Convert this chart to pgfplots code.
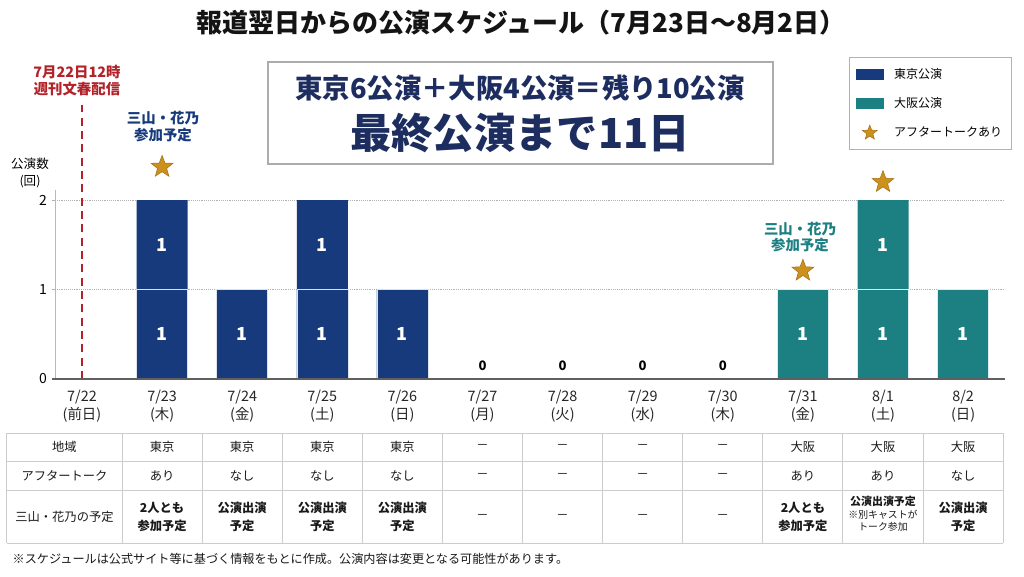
\documentclass[border=0pt]{standalone}
\usepackage{fontspec}
\setmainfont{Noto Sans CJK JP}
\usepackage{pgfplots}
\pgfplotsset{compat=1.18}
\definecolor{tokyoC}{RGB}{23,58,125}
\definecolor{osakaC}{RGB}{28,127,130}
\definecolor{starC}{RGB}{204,144,28}
\definecolor{starD}{RGB}{165,112,20}
\definecolor{redC}{RGB}{178,34,40}
\definecolor{boxC}{RGB}{30,45,95}
\newcommand{\fs}[2]{\fontsize{#1}{#2}\selectfont}
\pgfdeclareplotmark{fstar}{%
  \pgfpathmoveto{\pgfqpointpolar{90}{\pgfplotmarksize}}%
  \pgfpathlineto{\pgfqpointpolar{126}{0.42\pgfplotmarksize}}%
  \pgfpathlineto{\pgfqpointpolar{162}{\pgfplotmarksize}}%
  \pgfpathlineto{\pgfqpointpolar{198}{0.42\pgfplotmarksize}}%
  \pgfpathlineto{\pgfqpointpolar{234}{\pgfplotmarksize}}%
  \pgfpathlineto{\pgfqpointpolar{270}{0.42\pgfplotmarksize}}%
  \pgfpathlineto{\pgfqpointpolar{306}{\pgfplotmarksize}}%
  \pgfpathlineto{\pgfqpointpolar{342}{0.42\pgfplotmarksize}}%
  \pgfpathlineto{\pgfqpointpolar{18}{\pgfplotmarksize}}%
  \pgfpathlineto{\pgfqpointpolar{54}{0.42\pgfplotmarksize}}%
  \pgfpathclose
  \pgfusepathqfillstroke
}
\begin{document}
\begin{tikzpicture}
\path[use as bounding box, fill=white] (-61.5pt,-147.75pt) rectangle (706.5pt,284.25pt);
\begin{axis}[
  at={(0,0)}, anchor=origin,
  x=60.075pt, y=67.125pt,
  xmin=-0.337, xmax=11.52, ymin=0, ymax=2.11,
  clip=false,
  axis lines=left,
  axis line style={-, draw=gray!55, line width=0.7pt},
  /pgf/number format/assume math mode=true,
  ymajorgrids,
  grid style={densely dotted, gray!60, line width=0.6pt},
  ytick={0,1,2},
  yticklabel style={font=\fs{10.5}{12}, text=black},
  ytick style={draw=gray!60},
  tick align=outside, major tick length=2.5pt,
  xtick={0,...,11},
  x tick style={draw=none},
  xticklabels={{7/22\\(前日)},{7/23\\(木)},{7/24\\(金)},{7/25\\(土)},{7/26\\(日)},{7/27\\(月)},{7/28\\(火)},{7/29\\(水)},{7/30\\(木)},{7/31\\(金)},{8/1\\(土)},{8/2\\(日)}},
  xticklabel style={align=center, font=\fs{10.8}{13.5}, text=black!85, yshift=-2pt},
  ylabel={公演数\\(回)},
  every axis y label/.style={at={(axis cs:-0.649,2.30)}, anchor=center, align=center, font=\fs{9.4}{12.75}},
  legend style={at={(0.836,1.705)}, anchor=north west, draw=gray!60, line width=0.6pt, fill=white,
    font=\fs{9}{11}, inner xsep=5pt, inner ysep=6pt, row sep=9pt,
    /tikz/every odd column/.append style={column sep=6pt}},
  legend cell align=left,
]
\addlegendimage{legend image code/.code={\fill[tokyoC] (0pt,-3.6pt) rectangle (20pt,3.6pt);}}
\addlegendentry{東京公演}
\addlegendimage{legend image code/.code={\fill[osakaC] (0pt,-3.6pt) rectangle (20pt,3.6pt);}}
\addlegendentry{大阪公演}
\addlegendimage{legend image code/.code={\draw[starD, fill=starC, line width=0.4pt, mark size=5.8pt, mark=fstar] plot coordinates {(10pt,0pt)};}}
\addlegendentry{アフタートークあり}

% 7/22 12時 marker
\addplot[forget plot, redC, line width=1.3pt, dash pattern=on 6pt off 4pt] coordinates {(0,0) (0,3.06)};

% Tokyo: daily totals
\addplot[forget plot, ybar, bar width=38.25pt, bar shift=0pt, fill=tokyoC, draw=none]
  coordinates {(1,2) (2,1) (3,2) (4,1)};
% Tokyo: first show of each day
\addplot[forget plot, ybar, bar width=38.25pt, bar shift=0pt, fill=tokyoC, draw=white!85!tokyoC, line width=0.4pt,
  point meta=explicit, nodes near coords,
  nodes near coords style={anchor=center, yshift=-33.56pt, text=white, font=\bfseries\fs{13.5}{14}}]
  coordinates {(1,1) [1] (2,1) [1] (3,1) [1] (4,1) [1]};
% Tokyo: second show labels
\addplot[forget plot, draw=none, point meta=explicit, nodes near coords,
  nodes near coords style={anchor=center, yshift=-33.56pt, text=white, font=\bfseries\fs{13.5}{14}}]
  coordinates {(1,2) [1] (3,2) [1]};

% Osaka: daily totals
\addplot[forget plot, ybar, bar width=38.25pt, bar shift=0pt, fill=osakaC, draw=none]
  coordinates {(9,1) (10,2) (11,1)};
\addplot[forget plot, ybar, bar width=38.25pt, bar shift=0pt, fill=osakaC, draw=white!85!osakaC, line width=0.4pt,
  point meta=explicit, nodes near coords,
  nodes near coords style={anchor=center, yshift=-33.56pt, text=white, font=\bfseries\fs{13.5}{14}}]
  coordinates {(9,1) [1] (10,1) [1] (11,1) [1]};
\addplot[forget plot, draw=none, point meta=explicit, nodes near coords,
  nodes near coords style={anchor=center, yshift=-33.56pt, text=white, font=\bfseries\fs{13.5}{14}}]
  coordinates {(10,2) [1]};

% zero days
\addplot[forget plot, draw=none, point meta=explicit, nodes near coords,
  nodes near coords style={anchor=center, yshift=9.75pt, text=black, font=\bfseries\fs{9.8}{10}}]
  coordinates {(5,0) [0] (6,0) [0] (7,0) [0] (8,0) [0]};

% after-talk stars
\addplot[forget plot, only marks, mark=fstar, mark size=8.6pt, fill=starC, draw=starD, line width=0.4pt]
  coordinates {(1,2.37) (9,1.21) (10,2.20)};

\draw[gray!75!black, line width=1.1pt] (axis cs:-0.37,0) -- (axis cs:11.52,0);
\end{axis}

\begin{scope}[x=0.75pt,y=-0.75pt,shift={(-82,-379)}]
\node[font=\bfseries\fs{19.5}{22}, text=black!92] at (521,23) {報道翌日からの公演スケジュール（7月23日～8月2日）};
\node[text=redC, font=\bfseries\fs{10.8}{12.75}, align=center] at (77,80.5) {7月22日12時\\週刊文春配信};
\node[text=tokyoC, font=\bfseries\fs{10.8}{12.75}, align=center] at (163,126.5) {三山・花乃\\参加予定};
\node[text=osakaC, font=\bfseries\fs{10.8}{12}, align=center] at (800,237) {三山・花乃\\参加予定};
\draw[gray!65, line width=0.8pt, fill=white] (268,62) rectangle (773,164);
\node[text=boxC, font=\bfseries\fs{20.5}{22}] at (520,88) {東京6公演＋大阪4公演＝残り10公演};
\node[text=boxC, font=\bfseries\fs{31}{33}] at (520,133) {最終公演まで11日};

% table
\begin{scope}[gray!40, line width=0.75pt]
\foreach \yy in {433,461,490,543} \draw (7,\yy) -- (1003,\yy);
\draw (7,433) -- (7,543);
\foreach \k in {0,...,11} \draw ({122.05+80.1*\k},433) -- ({122.05+80.1*\k},543);
\end{scope}
\begin{scope}[font=\fs{9.2}{13.5}, text=black!90]
\node at (64.5,447) {地域};
\node at (64.5,475.5) {アフタートーク};
\node at (64.5,516.5) {三山・花乃の予定};
\foreach \i/\t in {1/東京,2/東京,3/東京,4/東京,5/－,6/－,7/－,8/－,9/大阪,10/大阪,11/大阪}
  \node at ({82+80.1*\i},447) {\t};
\foreach \i/\t in {1/あり,2/なし,3/なし,4/なし,5/－,6/－,7/－,8/－,9/あり,10/あり,11/なし}
  \node at ({82+80.1*\i},475.5) {\t};
\foreach \i in {5,6,7,8} \node at ({82+80.1*\i},516.5) {－};
\end{scope}
\begin{scope}[font=\bfseries\fs{9.2}{13.5}, text=black!90, align=center]
\node at ({82+80.1*1},516.5) {2人とも\\参加予定};
\node at ({82+80.1*2},516.5) {公演出演\\予定};
\node at ({82+80.1*3},516.5) {公演出演\\予定};
\node at ({82+80.1*4},516.5) {公演出演\\予定};
\node at ({82+80.1*9},516.5) {2人とも\\参加予定};
\node at ({82+80.1*11},516.5) {公演出演\\予定};
\end{scope}
\node[font=\mdseries\fs{7.4}{9.2}, text=black!90, align=center] at ({82+80.1*10},514) {{\bfseries\fs{8.2}{9.2}公演出演予定}\\※別キャストが\\トーク参加};
\node[anchor=west, font=\fs{9.1}{11}, text=black!90] at (8,559) {※スケジュールは公式サイト等に基づく情報をもとに作成。公演内容は変更となる可能性があります。};
\end{scope}
\end{tikzpicture}
\end{document}
